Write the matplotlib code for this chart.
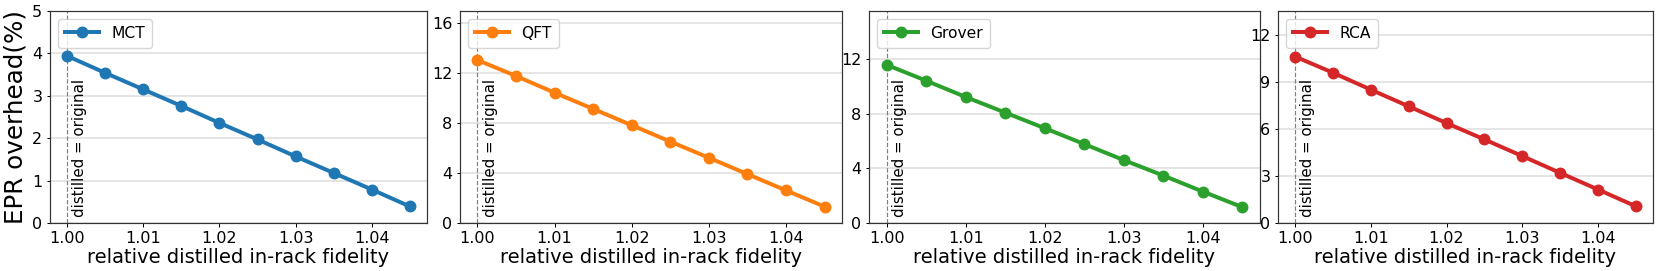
import matplotlib
matplotlib.use("Agg")
import matplotlib.pyplot as plt

fidelity = [1.000, 1.005, 1.010, 1.015, 1.020, 1.025, 1.030, 1.035, 1.040, 1.045]
names = ["MCT", "QFT", "Grover", "RCA"]
mct = [3.94, 3.54, 3.15, 2.76, 2.36, 1.97, 1.57, 1.18, 0.79, 0.39]
qft = [13.07, 11.79, 10.45, 9.15, 7.84, 6.53, 5.23, 3.92, 2.61, 1.31]
grover = [11.56, 10.40, 9.21, 8.07, 6.93, 5.77, 4.60, 3.47, 2.30, 1.16]
rca = [10.60, 9.57, 8.49, 7.43, 6.36, 5.32, 4.26, 3.19, 2.13, 1.06]
series = [mct, qft, grover, rca]
colors = ["#1f77b4", "#ff7f0e", "#2ca02c", "#d62728"]
ylims = [5.0, 17.0, 15.5, 13.5]
yticks = [[0, 1, 2, 3, 4, 5], [0, 4, 8, 12, 16], [0, 4, 8, 12], [0, 3, 6, 9, 12]]
xticks = [1.00, 1.01, 1.02, 1.03, 1.04]

W, H = 1660, 271
fig = plt.figure(figsize=(W / 100, H / 100), dpi=100)
px = 72 / 100
boxes = [(50, 427), (460, 842), (869, 1260), (1278, 1653)]
top, bot = 11, 223

xlabels = []
ylabels = []
for i, (l, r) in enumerate(boxes):
    ax = fig.add_axes([l / W, (H - bot) / H, (r - l) / W, (bot - top) / H])
    ax.plot(fidelity, series[i], color=colors[i], lw=4 * px, marker="o",
            ms=10.5 * px, label=names[i], zorder=3)
    ax.axvline(1.0, color="gray", ls="--", lw=1.2 * px, zorder=2)
    ax.text(1.0007, 0.03, "distilled = original", rotation=90, va="bottom",
            ha="left", fontsize=15 * px, transform=ax.get_xaxis_transform())
    ax.set_ylim(0, ylims[i])
    ax.set_yticks(yticks[i])
    ax.set_xticks(xticks)
    ax.set_xticklabels([f"{t:.2f}" for t in xticks])
    ax.grid(axis="y", color="#dddddd", lw=1.5 * px, zorder=0)
    ax.tick_params(labelsize=16 * px, length=3.5 * px, width=1 * px, pad=3)
    for s in ax.spines.values():
        s.set_color("#333333")
        s.set_linewidth(1.2 * px)
    xlabels.append(ax.set_xlabel("relative distilled in-rack fidelity",
                                 fontsize=19.3 * px, labelpad=2))
    if i == 0:
        ylabels.append(ax.set_ylabel("EPR overhead(%)", fontsize=24.5 * px, labelpad=3))
    ax.legend(loc="upper left", fontsize=15.5 * px, handlelength=2.2,
              borderpad=0.45, framealpha=0.8)

# fit label sizes to the measured widths in the reference
fig.canvas.draw()
rend = fig.canvas.get_renderer()
w = xlabels[0].get_window_extent(rend).width
fs = xlabels[0].get_fontsize() * 299.0 / w
for t in xlabels:
    t.set_fontsize(fs)
h = ylabels[0].get_window_extent(rend).height
ylabels[0].set_fontsize(ylabels[0].get_fontsize() * 214.0 / h)

fig.savefig("out.png", dpi=100)
